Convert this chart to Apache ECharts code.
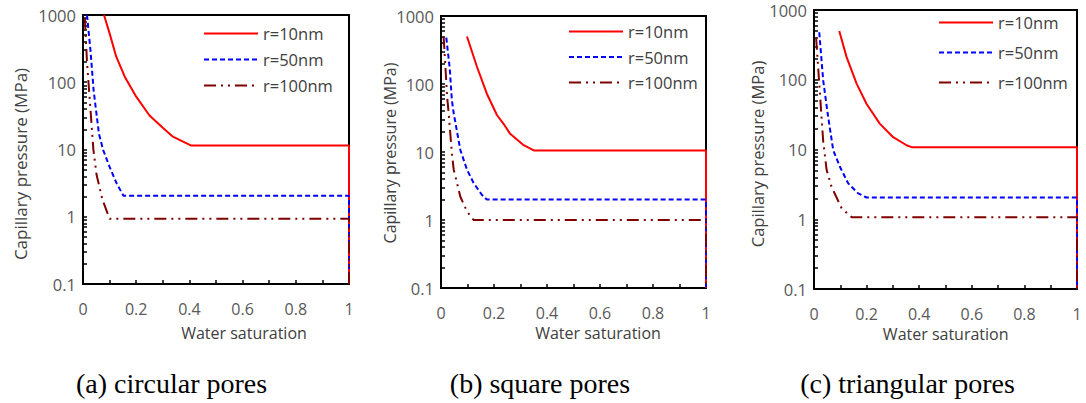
<!DOCTYPE html>
<html>
<head>
<meta charset="utf-8">
<script src="https://cdn.jsdelivr.net/npm/echarts@6/dist/echarts.min.js"></script>
<style>html,body{margin:0;padding:0;background:#fff;}#c{width:1086px;height:403px;}</style>
</head>
<body>
<div id="c"></div>
<script>
// ---- data ----
const seriesNames = ['r=10nm', 'r=50nm', 'r=100nm'];
const panelCaptions = ['(a) circular pores', '(b) square pores', '(c) triangular pores'];
const xAxisTitle = 'Water saturation';
const yAxisTitle = 'Capillary pressure (MPa)';
const xTickValues = [0, 0.1, 0.2, 0.3, 0.4, 0.5, 0.6, 0.7, 0.8, 0.9, 1];
const yTickValues = [0.1,0.2,0.3,0.4,0.5,0.6,0.7,0.8,0.9,1,2,3,4,5,6,7,8,9,10,20,30,40,50,60,70,80,90,100,200,300,400,500,600,700,800,900,1000];
const yLabelValues = [0.1, 1, 10, 100, 1000];

// (a) circular pores
const satA10  = [0.079, 0.1, 0.125, 0.157, 0.2, 0.25, 0.3, 0.338, 0.405, 1, 1];
const pcA10   = [1000, 533, 240, 121, 61, 32, 21, 15.5, 11.5, 11.5, 0.1];
const satA50  = [0.015, 0.028, 0.04, 0.06, 0.076, 0.1, 0.127, 0.152, 1, 1];
const pcA50   = [1000, 300, 75, 17, 9.8, 5.5, 3.1, 2.05, 2.05, 0.1];
const satA100 = [0.007, 0.015, 0.025, 0.039, 0.051, 0.073, 0.1, 1, 1];
const pcA100  = [900, 200, 58, 10, 4.2, 1.8, 0.93, 0.93, 0.1];

// (b) square pores
const satB10  = [0.098, 0.136, 0.173, 0.211, 0.236, 0.261, 0.312, 0.352, 1, 1];
const pcB10   = [500, 178, 72, 35, 26, 18.5, 12.6, 10.5, 10.5, 0.1];
const satB50  = [0.02, 0.033, 0.041, 0.048, 0.073, 0.098, 0.123, 0.154, 0.173, 1, 1];
const pcB50   = [480, 170, 58, 37, 10.7, 5.5, 3.5, 2.35, 2.0, 2.0, 0.1];
const satB100 = [0.01, 0.016, 0.023, 0.029, 0.041, 0.048, 0.073, 0.098, 0.123, 1, 1];
const pcB100  = [490, 200, 65, 37, 9.6, 5.5, 2.2, 1.34, 1.0, 1.0, 0.1];

// (c) triangular pores
const satC10  = [0.096, 0.124, 0.162, 0.2, 0.25, 0.301, 0.352, 0.371, 1, 1];
const pcC10   = [500, 211, 88, 45, 23.5, 15, 11.5, 10.8, 10.8, 0.1];
const satC50  = [0.02, 0.035, 0.054, 0.073, 0.099, 0.13, 0.168, 0.2, 1, 1];
const pcC50   = [480, 97, 29, 9.8, 5.6, 3.27, 2.35, 2.05, 2.05, 0.1];
const satC100 = [0.008, 0.023, 0.035, 0.048, 0.067, 0.105, 0.143, 1, 1];
const pcC100  = [400, 60, 13, 5.1, 2.9, 1.44, 1.07, 1.07, 0.1];

// ---- layout / style ----
const panels = [
  {grid: {left: 83, top: 15, width: 266, height: 269}, legend: {left: 203, top: 25, gap: 9},
   xName: [244, 333], yName: [20, 164], cap: [171.5, 383], yNameSize: 17,
   sets: [[satA10, pcA10], [satA50, pcA50], [satA100, pcA100]]},
  {grid: {left: 441, top: 16, width: 265, height: 272}, legend: {left: 568, top: 23, gap: 8.5},
   xName: [598, 333], yName: [390, 153], cap: [540, 383], yNameSize: 16,
   sets: [[satB10, pcB10], [satB50, pcB50], [satB100, pcB100]]},
  {grid: {left: 814, top: 10, width: 263, height: 279}, legend: {left: 938, top: 14, gap: 13},
   xName: [945.7, 334], yName: [757, 154], cap: [907.5, 383], yNameSize: 16.5,
   sets: [[satC10, pcC10], [satC50, pcC50], [satC100, pcC100]]}
];
const lineStyles = [
  {color: '#FF0000', width: 2, type: 'solid'},
  {color: '#0000FF', width: 2, type: [5, 3]},
  {color: '#800000', width: 2, type: [12, 5, 2, 5, 2, 5]}
];
const sansFont = 'Open Sans';
const tickColor = '#595959';

const grids = [], xAxes = [], yAxes = [], series = [], legends = [], graphics = [];
panels.forEach((p, i) => {
  grids.push(Object.assign({show: true, borderColor: '#000', borderWidth: 2, containLabel: false}, p.grid));
  xAxes.push({
    gridIndex: i, type: 'value', min: 0, max: 1, interval: 0.2,
    axisLine: {show: true, onZero: false, lineStyle: {color: '#000', width: 2}},
    axisTick: {show: true, inside: true, length: 4, customValues: xTickValues, lineStyle: {color: '#000', width: 1.5}},
    axisLabel: {margin: 17, fontSize: 16, lineHeight: 16, color: tickColor, fontFamily: sansFont},
    splitLine: {show: false}
  });
  yAxes.push({
    gridIndex: i, type: 'log', logBase: 10, min: 0.1, max: 1000,
    axisLine: {show: true, onZero: false, lineStyle: {color: '#000', width: 2}},
    axisTick: {show: true, inside: true, length: 4, customValues: yTickValues, lineStyle: {color: '#000', width: 1.5}},
    axisLabel: {margin: 7, fontSize: 16.5, lineHeight: 16, color: tickColor, fontFamily: sansFont,
      customValues: yLabelValues, formatter: v => String(+v.toPrecision(6))},
    splitLine: {show: false}, minorTick: {show: false}
  });
  p.sets.forEach((s, k) => {
    series.push({
      type: 'line', name: seriesNames[k], xAxisIndex: i, yAxisIndex: i,
      data: s[0].map((x, j) => [x, s[1][j]]),
      symbol: 'none', smooth: false, lineStyle: lineStyles[k],
      itemStyle: {color: lineStyles[k].color}, z: 2 + k, animation: false
    });
  });
  legends.push({
    left: p.legend.left, top: p.legend.top, orient: 'vertical', padding: 0,
    itemWidth: 54, itemHeight: 14, itemGap: p.legend.gap, selectedMode: false,
    itemStyle: {opacity: 0},
    data: seriesNames, textStyle: {fontSize: 16.5, lineHeight: 16, color: '#404040', fontFamily: sansFont}
  });
  graphics.push({type: 'text', x: p.xName[0], y: p.xName[1],
    style: {text: xAxisTitle, fontSize: 16, lineHeight: 16, fontFamily: sansFont, fill: '#404040', textAlign: 'center', textVerticalAlign: 'middle'}});
  graphics.push({type: 'text', x: p.yName[0], y: p.yName[1], rotation: Math.PI / 2,
    style: {text: yAxisTitle, fontSize: p.yNameSize, fontFamily: sansFont, fill: '#404040', textAlign: 'center', textVerticalAlign: 'middle'}});
  graphics.push({type: 'text', x: p.cap[0], y: p.cap[1],
    style: {text: panelCaptions[i], fontSize: 28, fontFamily: 'Liberation Serif', fill: '#000', textAlign: 'center', textVerticalAlign: 'middle'}});
});

const chart = echarts.init(document.getElementById('c'), null, {renderer: 'svg'});
chart.setOption({
  backgroundColor: '#fff', animation: false,
  grid: grids, xAxis: xAxes, yAxis: yAxes, series: series, legend: legends, graphic: graphics
});
</script>
</body>
</html>
